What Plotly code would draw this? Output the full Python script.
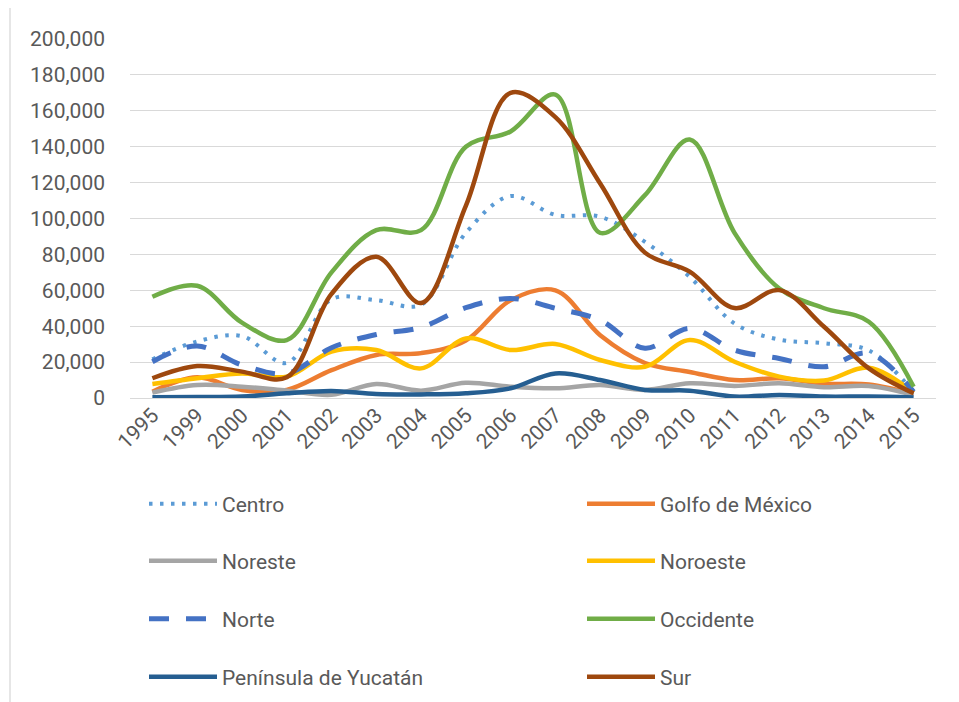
import plotly.graph_objects as go

years = ["1995", "1999", "2000", "2001", "2002", "2003", "2004", "2005", "2006",
         "2007", "2008", "2009", "2010", "2011", "2012", "2013", "2014", "2015"]

centro = [21500, 31500, 34500, 19500, 55000, 54500, 52000, 92000, 112500,
          102000, 101000, 87000, 67500, 41500, 32500, 30500, 26500, 3500]
golfo = [3500, 11500, 4500, 4500, 15500, 24000, 25000, 32000, 54500,
         60000, 35000, 19500, 14500, 10000, 11000, 8000, 7500, 2200]
noreste = [3000, 7200, 6300, 4100, 1800, 7800, 4100, 8500, 6300,
           5400, 7200, 4500, 8200, 6700, 8200, 6000, 6700, 1700]
noroeste = [7800, 11000, 13700, 11900, 25800, 26700, 16500, 33200, 26700,
            30100, 21200, 17400, 32300, 20200, 11900, 9700, 16900, 3000]
norte = [20200, 29000, 18400, 13700, 28000, 35400, 39300, 50300, 55500,
         50000, 43400, 27700, 38800, 26700, 22000, 17400, 24900, 3500]
occidente = [56400, 62500, 42000, 32300, 70000, 93500, 93500, 140000, 148500,
             169000, 92000, 113000, 144000, 92000, 61000, 50000, 42500, 6300]
yucatan = [400, 500, 800, 2600, 3900, 2200, 2000, 2600, 5400,
           13700, 10000, 4500, 4100, 800, 1700, 800, 800, 300]
sur = [11000, 17800, 14700, 11500, 58000, 78700, 52900, 107000, 170000,
       156500, 119500, 81000, 70400, 50100, 60100, 39700, 16500, 2600]

series = [
    ("Centro", centro, "#5B9BD5", "3.5px,7.5px", 4),
    ("Golfo de México", golfo, "#ED7D31", "solid", 4.5),
    ("Noreste", noreste, "#A5A5A5", "solid", 4.5),
    ("Noroeste", noroeste, "#FFC000", "solid", 4.5),
    ("Norte", norte, "#4472C4", "20px,17px", 5),
    ("Occidente", occidente, "#70AD47", "solid", 4.5),
    ("Península de Yucatán", yucatan, "#255E91", "solid", 4.5),
    ("Sur", sur, "#9E480E", "solid", 4.5),
]

# page body adds an 8px offset; work in figure coordinates
OFF = 8
W, H = 959 - OFF, 702 - OFF
L, T = 130 - OFF, 39 - OFF
R = W - (936 - OFF)
B = H - (398 - OFF)
pw = W - L - R
ph = H - T - B

def px_x(p):
    return (p - OFF - L) / pw

def px_y(p):
    return (H - B - (p - OFF)) / ph

font_family = "Roboto, 'Open Sans', sans-serif"
txt = "#595959"

row_y = [504, 561, 619, 677]
col_text_x = [222, 660]
ITEMW = 68

fig = go.Figure()
legends = {}
for i, (name, vals, color, dash, w) in enumerate(series):
    key = "legend" if i == 0 else f"legend{i + 1}"
    fig.add_trace(go.Scatter(
        x=years, y=vals, name=name, mode="lines",
        line=dict(color=color, width=w, dash=dash, shape="spline", smoothing=1.0),
        legend=key,
    ))
    r, c = divmod(i, 2)
    legends[key] = dict(
        orientation="v", x=px_x(col_text_x[c] - (ITEMW + 10)), xanchor="left",
        y=px_y(row_y[r]), yanchor="middle",
        font=dict(family=font_family, size=21, color=txt),
        bgcolor="rgba(0,0,0,0)", itemwidth=ITEMW,
    )

fig.update_layout(
    width=W, height=H,
    margin=dict(l=L, r=R, t=T, b=B, autoexpand=False),
    paper_bgcolor="white", plot_bgcolor="white",
    font=dict(family=font_family, size=21, color=txt),
    showlegend=True,
    xaxis=dict(
        type="category", range=[-0.5, 17.5], tickangle=-45, automargin=False,
        showgrid=False, showline=False, ticks="", zeroline=False,
        tickfont=dict(size=21, color=txt),
    ),
    yaxis=dict(
        range=[0, 200000], dtick=20000, tickformat=",d", automargin=False,
        showgrid=True, gridcolor="#D9D9D9", gridwidth=1.3,
        zeroline=True, zerolinecolor="#D9D9D9", zerolinewidth=1.3,
        showline=False, ticks="", ticklabelstandoff=24,
        tickfont=dict(size=21, color=txt),
    ),
    shapes=[dict(
        type="rect", xref="paper", yref="paper",
        x0=px_x(10), x1=px_x(975), y0=px_y(720), y1=px_y(5),
        line=dict(color="#D9D9D9", width=1.3), fillcolor="rgba(0,0,0,0)", layer="below",
    )],
    **legends,
)

fig.write_html("out.html")
